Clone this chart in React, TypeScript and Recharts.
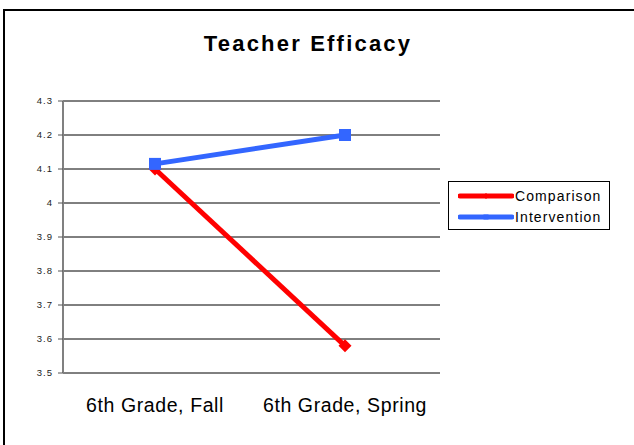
import React from 'react';
import { LineChart, Line, XAxis, YAxis, CartesianGrid, Legend } from 'recharts';

const categories = ['6th Grade, Fall', '6th Grade, Spring'];
const comparison = [4.1, 3.58];
const intervention = [4.115, 4.2];
const yTicks = [3.5, 3.6, 3.7, 3.8, 3.9, 4, 4.1, 4.2, 4.3];
const boundaryTicks = [0, 1, 2];

const FONT = '"Liberation Sans", Arial, sans-serif';
const RED = '#FF0000';
const BLUE = '#3366FF';

const data = categories.map((c, i) => ({ cat: c, comparison: comparison[i], intervention: intervention[i] }));

const seriesInfo: Record<string, { color: string; shape: 'diamond' | 'square' }> = {
  comparison: { color: RED, shape: 'diamond' },
  intervention: { color: BLUE, shape: 'square' },
};

function Marker({ cx, cy, color, shape, s = 6 }: { cx: number; cy: number; color: string; shape: string; s?: number }) {
  if (shape === 'diamond') {
    return <polygon points={`${cx},${cy - s} ${cx + s},${cy} ${cx},${cy + s} ${cx - s},${cy}`} fill={color} />;
  }
  return <rect x={cx - s + 0.5} y={cy - s + 0.5} width={2 * s - 1} height={2 * s - 1} fill={color} />;
}

const makeDot = (key: string) => (props: any) => {
  const { cx, cy, index } = props;
  if (cx == null || cy == null) return <g key={`${key}-${index}`} />;
  return (
    <g key={`${key}-${index}`}>
      <Marker cx={cx} cy={cy} color={seriesInfo[key].color} shape={seriesInfo[key].shape} s={6.5} />
    </g>
  );
};

const LegendContent = (props: any) => {
  const payload = props.payload || [];
  return (
    <div
      style={{
        border: '1px solid #000',
        background: '#fff',
        boxSizing: 'border-box',
        width: 162,
        height: 49,
        padding: '3px 0 0 9px',
        fontFamily: FONT,
        fontSize: 14,
        color: '#000',
      }}
    >
      {payload.map((p: any) => {
        const info = seriesInfo[p.dataKey] || { color: p.color, shape: 'square' };
        return (
          <div key={p.value} style={{ display: 'flex', alignItems: 'center', height: 21 }}>
            <svg width={56} height={12} style={{ display: 'block' }}>
              <line x1={2} y1={6} x2={54} y2={6} stroke={info.color} strokeWidth={5} strokeLinecap="round" />
              <Marker cx={28} cy={6} color={info.color} shape={info.shape} s={3} />
            </svg>
            <span style={{ marginLeft: 1, letterSpacing: 1.1 }}>{p.value}</span>
          </div>
        );
      })}
    </div>
  );
};

export default function App() {
  return (
    <div style={{ position: 'absolute', left: 0, top: 0, width: 634, height: 445, overflow: 'hidden', background: '#fff' }}>
      <div
        style={{
          position: 'absolute',
          left: 3,
          top: 9,
          width: 800,
          height: 600,
          border: '2px solid #000',
        }}
      />
      <div
        style={{
          position: 'absolute',
          left: 0,
          width: 616,
          top: 31,
          textAlign: 'center',
          fontFamily: FONT,
          fontWeight: 'bold',
          fontSize: 22,
          letterSpacing: 2.2,
          color: '#000',
        }}
      >
        Teacher Efficacy
      </div>
      <div style={{ position: 'absolute', left: 0, top: 0 }}>
        <LineChart width={634} height={445} data={data} margin={{ top: 101, right: 194, bottom: 42, left: 0 }}>
          <CartesianGrid vertical={false} stroke="#000" strokeWidth={1} yAxisId="left" />
          <XAxis
            xAxisId="frame"
            type="number"
            domain={[0, 2]}
            ticks={boundaryTicks}
            height={0}
            tickSize={5}
            tickFormatter={() => ''}
            stroke="#555"
            axisLine={{ stroke: '#555', strokeWidth: 2 }}
            tickLine={{ stroke: '#555', strokeWidth: 1.5 }}
          />
          <XAxis
            xAxisId="labels"
            dataKey="cat"
            padding={{ left: 92, right: 95 }}
            axisLine={false}
            tickLine={false}
            tickSize={0}
            tickMargin={25}
            height={30}
            interval={0}
            tick={{ fontFamily: FONT, fontSize: 19.5, fill: '#000', letterSpacing: 0.6 }}
          />
          <YAxis
            yAxisId="left"
            domain={[3.5, 4.3]}
            ticks={yTicks}
            width={63}
            tickSize={5}
            tickMargin={5}
            interval={0}
            axisLine={{ stroke: '#808080', strokeWidth: 2 }}
            tickLine={{ stroke: '#555', strokeWidth: 1 }}
            tick={{ fontFamily: FONT, fontSize: 9.5, fill: '#222', letterSpacing: 1 }}
          />
          <YAxis
            yAxisId="right"
            orientation="right"
            domain={[3.5, 4.3]}
            width={0}
            tick={false}
            tickLine={false}
            axisLine={{ stroke: '#999', strokeWidth: 2 }}
          />
          <Legend
            layout="vertical"
            align="center"
            verticalAlign="middle"
            wrapperStyle={{ left: 448, top: 181, width: 162 }}
            content={LegendContent}
          />
          <Line
            xAxisId="labels"
            yAxisId="left"
            type="linear"
            dataKey="comparison"
            name="Comparison"
            stroke={RED}
            strokeWidth={5}
            dot={makeDot('comparison')}
            activeDot={false}
            isAnimationActive={false}
          />
          <Line
            xAxisId="labels"
            yAxisId="left"
            type="linear"
            dataKey="intervention"
            name="Intervention"
            stroke={BLUE}
            strokeWidth={5}
            dot={makeDot('intervention')}
            activeDot={false}
            isAnimationActive={false}
          />
        </LineChart>
      </div>
    </div>
  );
}
